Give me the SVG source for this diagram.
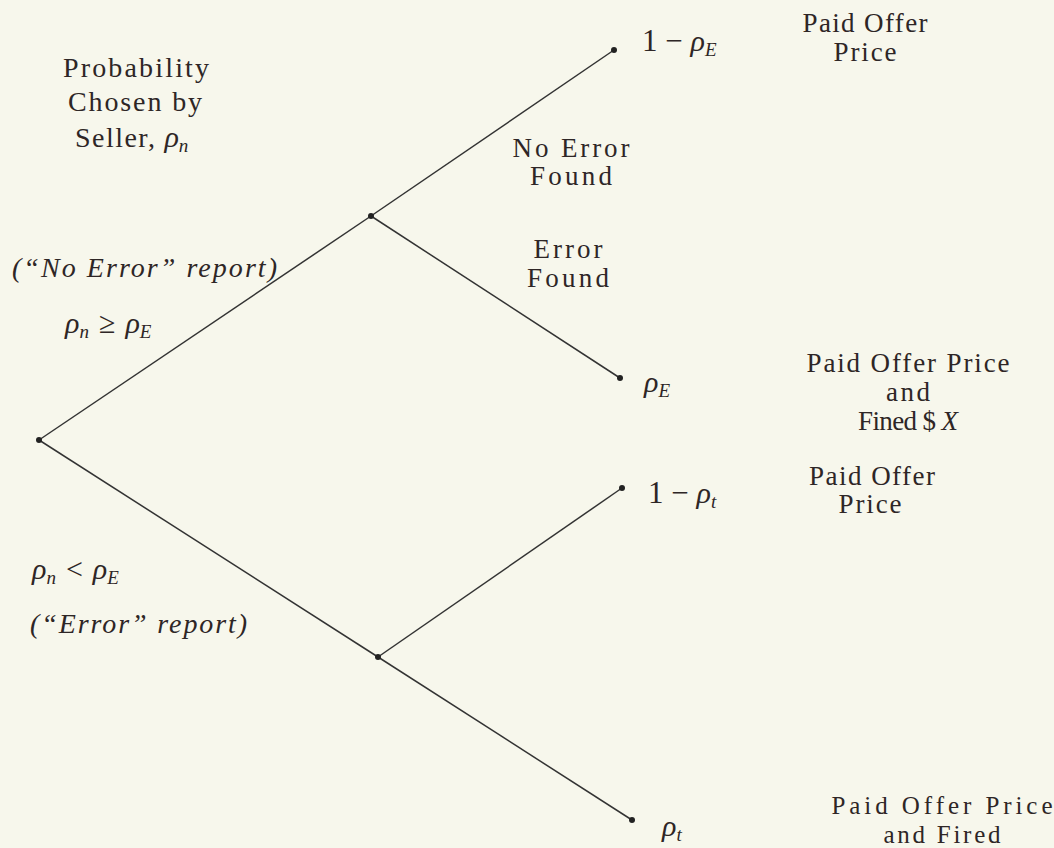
<svg xmlns="http://www.w3.org/2000/svg" width="1054" height="848" viewBox="0 0 1054 848">
<style>
text{font-family:'Liberation Serif','DejaVu Serif',serif}
.t{font-size:27px;fill:#2e2626;text-anchor:middle}
.l{font-size:27px;fill:#2e2626}
.i{font-style:italic}
.m{font-size:30px;font-style:italic}
.sub{font-size:19px;font-style:italic}
.e{stroke:#333;stroke-width:1.5;fill:none}
.d{fill:#222}
</style>
<rect width="1054" height="848" fill="#f7f7ec"/>
<g id="connectors">
<line class="e" x1="39" y1="440" x2="371" y2="216"/>
<line class="e" x1="39" y1="440" x2="378" y2="657"/>
<line class="e" x1="371" y1="216" x2="614" y2="50"/>
<line class="e" x1="371" y1="216" x2="620" y2="378"/>
<line class="e" x1="378" y1="657" x2="622" y2="488"/>
<line class="e" x1="378" y1="657" x2="632" y2="820"/>
</g>
<g id="title">
<text class="t" x="136" y="77" style="font-size:28px" textLength="146" lengthAdjust="spacing">Probability</text>
<text class="t" x="135" y="111" style="font-size:28px" textLength="134" lengthAdjust="spacing">Chosen by</text>
<text class="l" x="75" y="147" style="font-size:28px"><tspan textLength="80" lengthAdjust="spacing">Seller,</tspan><tspan class="m" dx="8">ρ</tspan><tspan class="sub" dy="5">n</tspan></text>
</g>
<g id="root">
<circle class="d" cx="39" cy="440" r="3"/>
<text class="l i" x="12" y="277" style="font-size:28px" textLength="265" lengthAdjust="spacing">(“No Error” report)</text>
<text class="l" x="65" y="333" style="font-size:30px"><tspan class="m">ρ</tspan><tspan class="sub" dy="5">n</tspan><tspan dy="-5" dx="10">≥</tspan><tspan class="m" dx="10">ρ</tspan><tspan class="sub" dy="5">E</tspan></text>
<text class="l" x="32" y="579" style="font-size:30px"><tspan class="m">ρ</tspan><tspan class="sub" dy="5">n</tspan><tspan dy="-5" dx="10">&lt;</tspan><tspan class="m" dx="10">ρ</tspan><tspan class="sub" dy="5">E</tspan></text>
<text class="l i" x="30" y="633" style="font-size:28px" textLength="217" lengthAdjust="spacing">(“Error” report)</text>
</g>
<g id="node-upper">
<circle class="d" cx="371" cy="216" r="3"/>
<text class="t" x="571" y="157" textLength="117" lengthAdjust="spacing">No Error</text>
<text class="t" x="571" y="185" textLength="82" lengthAdjust="spacing">Found</text>
<text class="t" x="568" y="258" textLength="69" lengthAdjust="spacing">Error</text>
<text class="t" x="568" y="287" textLength="82" lengthAdjust="spacing">Found</text>
</g>
<g id="node-lower">
<circle class="d" cx="378" cy="657" r="3"/>
</g>
<g id="leaf-1">
<circle class="d" cx="614" cy="50" r="3"/>
<text class="l" x="642" y="51" style="font-size:31px">1 − <tspan class="m">ρ</tspan><tspan class="sub" dy="5">E</tspan></text>
<text class="t" x="865" y="32" textLength="125" lengthAdjust="spacing">Paid Offer</text>
<text class="t" x="865" y="61" textLength="63" lengthAdjust="spacing">Price</text>
</g>
<g id="leaf-2">
<circle class="d" cx="620" cy="378" r="3"/>
<text class="l" x="644" y="392" style="font-size:30px"><tspan class="m">ρ</tspan><tspan class="sub" dy="5">E</tspan></text>
<text class="t" x="908" y="372" textLength="203" lengthAdjust="spacing">Paid Offer Price</text>
<text class="t" x="908" y="401" textLength="44" lengthAdjust="spacing">and</text>
<text class="t" x="908" y="430" textLength="100" lengthAdjust="spacing">Fined $ <tspan class="i">X</tspan></text>
</g>
<g id="leaf-3">
<circle class="d" cx="622" cy="488" r="3"/>
<text class="l" x="648" y="503" style="font-size:31px">1 − <tspan class="m">ρ</tspan><tspan class="sub" dy="5">t</tspan></text>
<text class="t" x="872" y="485" textLength="126" lengthAdjust="spacing">Paid Offer</text>
<text class="t" x="870" y="513" textLength="63" lengthAdjust="spacing">Price</text>
</g>
<g id="leaf-4">
<circle class="d" cx="632" cy="820" r="3"/>
<text class="l" x="662" y="836" style="font-size:30px"><tspan class="m">ρ</tspan><tspan class="sub" dy="5">t</tspan></text>
<text class="t" x="942" y="814" style="font-size:25px" textLength="221" lengthAdjust="spacing">Paid Offer Price</text>
<text class="t" x="942" y="843" style="font-size:25px" textLength="117" lengthAdjust="spacing">and Fired</text>
</g>
</svg>
